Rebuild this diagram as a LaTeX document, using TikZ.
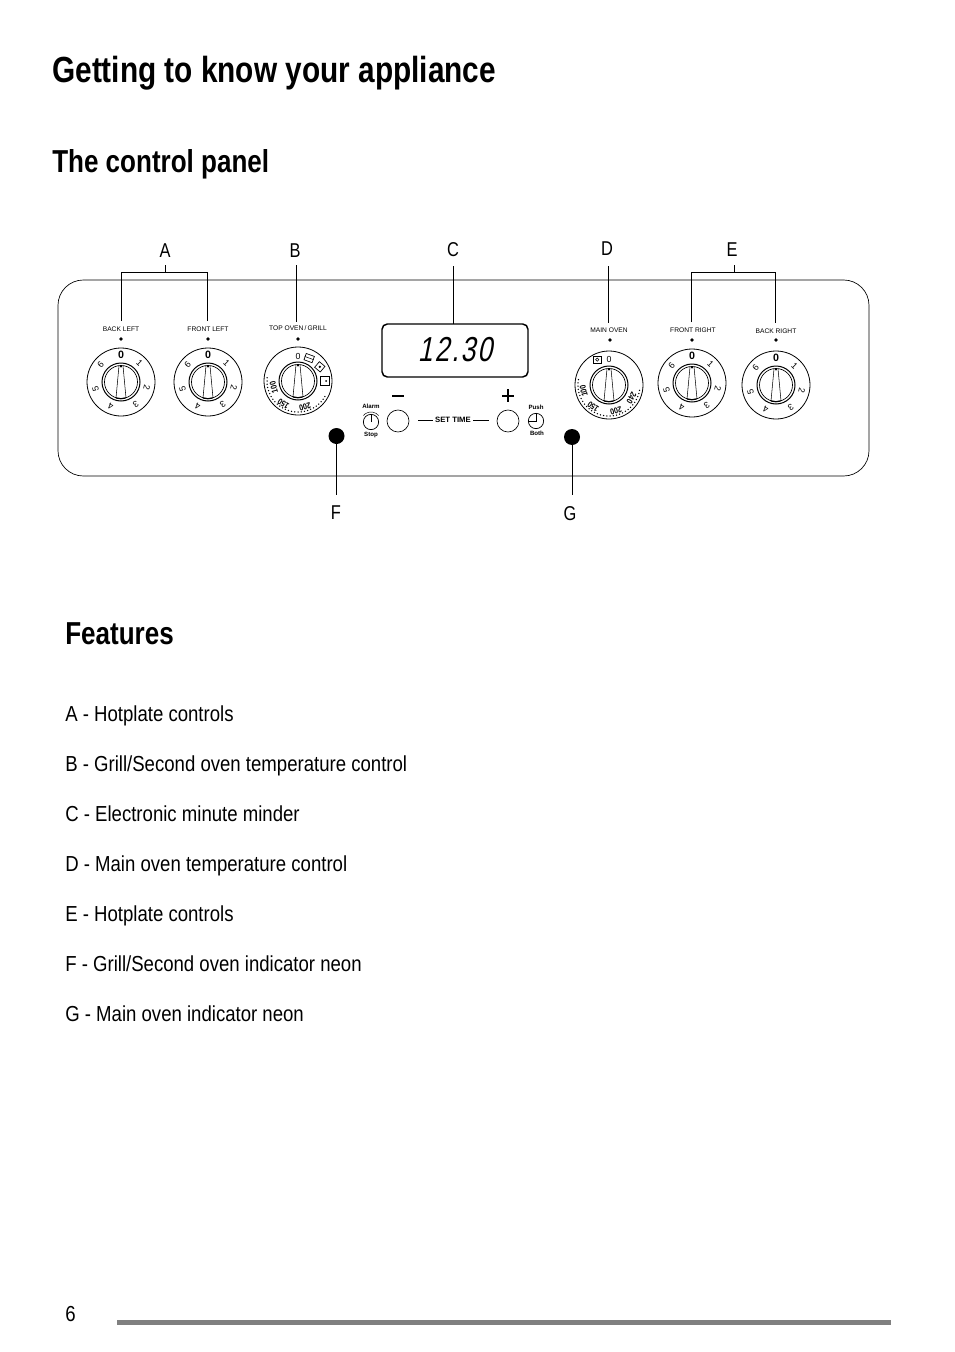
\documentclass[tikz,border=0pt]{standalone}
\usepackage{fontspec}
\setmainfont{Liberation Sans}
\newfontfamily\cond[FakeStretch=0.82]{Liberation Sans}
\newfontfamily\condb[FakeStretch=0.855]{Liberation Sans}
\newfontfamily\lcd[FakeStretch=0.76,FakeSlant=0.2,LetterSpace=6]{Liberation Sans}
\newcommand{\fs}[1]{\fontsize{#1}{#1}\selectfont}
\tikzset{
  hd/.style={inner sep=0pt,anchor=base west,font=\cond\bfseries\fs{27.25}},
  sub/.style={inner sep=0pt,anchor=base west,font=\cond\bfseries\fs{23.8}},
  body/.style={inner sep=0pt,anchor=base west,font=\condb\fs{16.3}},
  letter/.style={inner sep=0pt,font=\cond\fs{15}},
  tiny/.style={inner sep=0pt,font=\fs{5}},
  tinyb/.style={inner sep=0pt,font=\bfseries\fs{4.6}},
  dig/.style={inner sep=0pt,font=\fs{6.6}},
  temp/.style={inner sep=0pt,font=\cond\bfseries\fs{6.4}},
  leader/.style={draw=black,line width=.45pt},
  thin/.style={draw=black,line width=.4pt},
  pics/knob/.style={code={
    \draw[thin,line width=.6pt] (0,0) circle (34);
    \draw[thin,line width=.75pt] (0,0) circle (19);
    \draw[thin,line width=.5pt] (0,0) circle (16.5);
    \draw[thin] (-2,16.3) -- (-5,-16) (2,16.3) -- (5,-16);
    \draw[black,line width=.9pt] (-5,-16) arc (-107:-73:16.5);
    \fill (0,15.5) circle (1.2);
  }},
  pics/hotdial/.style={code={
    \pic {knob};
    \node[dig,font=\bfseries\fs{8},rotate=0] (zero) at (90:27.5) {0};
    \foreach \d/\a in {1/46,2/-13,3/-56,4/-113,5/196,6/140}{
      \node[dig,rotate=\a-90] (d\d) at (\a:26.5) {\d};
    }
  }}
}
\begin{document}
\begin{tikzpicture}[x=.75pt,y=.75pt]
\useasboundingbox (0,0) rectangle (954,-1352);
\fill[white] (0,0) rectangle (954,-1352);

% headings
\node[hd] (title) at (52,-83) {Getting to know your appliance};
\node[sub] (tcp) at (52,-172) {The control panel};
\node[sub] (feat) at (65,-644) {Features};

% panel
\node[draw=black,line width=.5pt,rounded corners=19pt,minimum width=608.25pt,minimum height=147pt,inner sep=0pt] (panel) at (463.5,-378) {};

% letters
\node[letter] (A) at (165,-251) {A};
\node[letter] (B) at (295,-251) {B};
\node[letter] (C) at (453,-250) {C};
\node[letter] (D) at (607,-249) {D};
\node[letter] (E) at (732,-250) {E};
\node[letter] (F) at (336,-513) {F};
\node[letter] (G) at (570,-514) {G};

% dials
\pic (bl) at (121,-382) {hotdial};
\pic (fl) at (208,-382) {hotdial};
\pic (fr) at (692,-383) {hotdial};
\pic (br) at (776,-385) {hotdial};

% top oven dial
\pic (to) at (298,-381) {knob};
\begin{scope}[shift={(298,-381)}]
  \node[dig] (to0) at (90:25) {0};
  \foreach \a in {174,180,...,330}{\fill (\a:31) circle (.75);}
  \node[temp,rotate=105] (to100) at (195:25) {100};
  \node[temp,rotate=147] (to150) at (237:27) {150};
  \node[temp,rotate=195] (to200) at (285:27) {200};
  \node[draw=black,fill=white,line width=.5pt,minimum width=6.5pt,minimum height=5pt,inner sep=0pt,rotate=-20] (ic1) at (64:25.5) {};
  \draw[thin] (ic1.west) -- (ic1.east);
  \node[draw=black,fill=white,line width=.5pt,minimum size=5.5pt,inner sep=0pt,rotate=-40] (ic2) at (33:26) {};
  \fill (ic2.center) circle (1.3);
  \node[draw=black,fill=white,line width=.6pt,minimum size=6.5pt,inner sep=0pt] (ic3) at (0:27) {};
  \fill (ic3.center) ++(1,0) circle (1);
\end{scope}

% main oven dial
\pic (mo) at (609,-385) {knob};
\begin{scope}[shift={(609,-385)}]
  \node[dig] (mo0) at (90:25.5) {0};
  \foreach \a in {170,176,...,350}{\fill (\a:31) circle (.75);}
  \node[temp,rotate=103] (mo100) at (193:26) {100};
  \node[temp,rotate=144] (mo150) at (234:27) {150};
  \node[temp,rotate=195] (mo200) at (285:27) {200};
  \node[temp,rotate=240] (mo240) at (330:26) {240};
  \node[draw=black,fill=white,line width=.5pt,minimum size=5.5pt,inner sep=0pt] (ic4) at (115:28) {};
  \draw[thin] (ic4.center) circle (1.6);
\end{scope}

% dial captions and marks
\node[tiny] (cBL) at (121,-329) {BACK LEFT};
\node[tiny] (cFL) at (208,-329) {FRONT LEFT};
\node[tiny] (cTO) at (298,-328) {TOP OVEN\,/\,GRILL};
\node[tiny] (cMO) at (609,-330) {MAIN OVEN};
\node[tiny] (cFR) at (693,-330) {FRONT RIGHT};
\node[tiny] (cBR) at (776,-331) {BACK RIGHT};
\foreach \n/\x/\y in {m1/121/339,m2/208/339,m3/298/339,m4/610/340,m5/692/340,m6/776/340}{
  \node[circle,fill=black,minimum size=2.8pt,inner sep=0pt] (\n) at (\x,-\y) {};
}

% display
\node[draw=black,line width=1.1pt,rounded corners=4pt,minimum width=109.5pt,minimum height=39.75pt,inner sep=0pt] (disp) at (455,-350.5) {};
\node[inner sep=0pt,font=\lcd\fs{26}] (time) at (455,-350) {12.30};

% buttons
\node[circle,draw=black,line width=.5pt,minimum size=16.5pt,inner sep=0pt] (minus) at (398,-421) {};
\node[circle,draw=black,line width=.5pt,minimum size=16.5pt,inner sep=0pt] (plus) at (508,-421) {};
\coordinate (mw) at (392,-396);
\coordinate (me) at (404,-396);
\draw[black,line width=1pt] (mw) -- (me);
\coordinate (pw) at (502,-396);
\coordinate (pe) at (514,-396);
\coordinate (pn) at (508,-389);
\coordinate (ps) at (508,-402);
\draw[black,line width=1pt] (pw) -- (pe) (pn) -- (ps);
\node[inner sep=0pt,font=\bfseries\fs{5.8}] (settime) at (453,-420) {SET TIME};
\coordinate (sl) at (418,-420);
\coordinate (sr) at (489,-420);
\draw[thin,shorten >=1.5pt] (sl) -- (settime.west);
\draw[thin,shorten <=1.5pt] (settime.east) -- (sr);

% alarm
\node[tinyb] (alarm) at (371,-406) {Alarm};
\node[tinyb] (stop) at (371,-435) {Stop};
\node[circle,draw=black,line width=.55pt,minimum size=11.5pt,inner sep=0pt] (alc) at (371,-422) {};
\draw[thin] (alc.center) -- (alc.north);
\draw[thin,line width=.35pt] (alc.center) ++(140:10) arc (140:40:10);
% push
\node[tinyb] (push) at (536,-407) {Push};
\node[tinyb] (both) at (537,-433) {Both};
\node[circle,draw=black,line width=.55pt,minimum size=11.5pt,inner sep=0pt] (clk) at (536,-421) {};
\draw[thin] (clk.north) -- (clk.center) -- (clk.west);

% neons
\node[circle,fill=black,minimum size=12pt,inner sep=0pt] (nF) at (336.5,-436) {};
\node[circle,fill=black,minimum size=12pt,inner sep=0pt] (nG) at (572,-437) {};

% leaders
\coordinate (Astub) at (165,-265);
\coordinate (Atop) at (165,-272);
\coordinate (A1) at (121,-272);
\coordinate (A2) at (207,-272);
\coordinate (A1b) at (121,-321);
\coordinate (A2b) at (207,-321);
\draw[leader] (A1b) -- (A1) -- (A2) -- (A2b);
\draw[leader] (Astub) -- (Atop);
\coordinate (Bt) at (296,-265);
\coordinate (Bb) at (296,-322);
\draw[leader] (Bt) -- (Bb);
\coordinate (Ct) at (453.5,-266);
\coordinate (Cb) at (453.5,-324);
\draw[leader] (Ct) -- (Cb);
\coordinate (Dt) at (608,-266);
\coordinate (Db) at (608,-323);
\draw[leader] (Dt) -- (Db);
\coordinate (Estub) at (734,-265);
\coordinate (Etop) at (734,-272);
\coordinate (E1) at (691,-272);
\coordinate (E2) at (775,-272);
\coordinate (E1b) at (691,-322);
\coordinate (E2b) at (775,-323);
\draw[leader] (E1b) -- (E1) -- (E2) -- (E2b);
\draw[leader] (Estub) -- (Etop);
\coordinate (Fb) at (336.5,-495);
\draw[leader] (nF) -- (Fb);
\coordinate (Gb) at (572,-495);
\draw[leader] (nG) -- (Gb);

% feature list
\node[body] (f1) at (65,-721) {A - Hotplate controls};
\node[body] (f2) at (65,-771) {B - Grill/Second oven temperature control};
\node[body] (f3) at (65,-821) {C - Electronic minute minder};
\node[body] (f4) at (65,-871) {D - Main oven temperature control};
\node[body] (f5) at (65,-921) {E - Hotplate controls};
\node[body] (f6) at (65,-971) {F - Grill/Second oven indicator neon};
\node[body] (f7) at (65,-1021) {G - Main oven indicator neon};

% footer
\node[body] (pg) at (65,-1321) {6};
\node[fill={rgb,255:red,128;green,128;blue,128},minimum width=580.5pt,minimum height=3.75pt,inner sep=0pt] (bar) at (504,-1322.5) {};
\end{tikzpicture}
\end{document}
